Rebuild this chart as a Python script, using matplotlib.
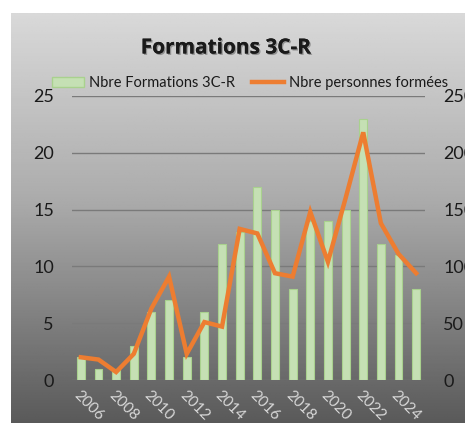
import matplotlib
matplotlib.use("Agg")
import matplotlib.pyplot as plt
import numpy as np
from matplotlib.lines import Line2D
from matplotlib.patches import Patch
import matplotlib.patheffects as pe

years = list(range(2006, 2026))
formations = [2, 1, 1, 3, 6, 7, 2, 6, 12, 13, 17, 15, 8, 14, 14, 15, 23, 12, 11, 8]
personnes = [20, 18, 7, 23, 63, 91, 23, 51, 47, 133, 129, 94, 91, 148, 104, 160, 218, 138, 111, 94]
tick_years = [str(y) if y % 2 == 0 else "" for y in years]

plt.rcParams['font.family'] = ['Lato', 'DejaVu Sans']

W, H = 465, 423
fig = plt.figure(figsize=(W / 100, H / 100), dpi=100)
fig.patch.set_facecolor('white')

# background gradient of chart area
bg = fig.add_axes([11 / W, 0, 1 - 11 / W, 1 - 13 / H], zorder=0)
t = np.linspace(0, 1, 256)
vals = np.interp(t, [0, 0.45, 1.0], [217, 172, 90]) / 255.0
img = np.repeat(vals[:, None], 2, axis=1)
bg.imshow(img, aspect='auto', cmap='gray', vmin=0, vmax=1, extent=[0, 1, 0, 1], origin='upper')
bg.set_axis_off()

ax = fig.add_axes([72 / W, 1 - 380 / H, (425 - 72) / W, (380 - 96) / H], zorder=1)
ax.patch.set_alpha(0)
x = np.arange(len(years))
ax.bar(x, formations, width=0.45, color='#c5e0b4', edgecolor='#a9d18e', linewidth=0.8, zorder=2)
ax.set_xlim(-0.5, len(years) - 0.5)
ax.set_ylim(0, 25)
ax.set_yticks([0, 5, 10, 15, 20, 25])
ax.yaxis.grid(True, color='#7a7a7a', linewidth=1.0, zorder=0)
ax.set_axisbelow(True)
for s in ax.spines.values():
    s.set_visible(False)
ax.tick_params(axis='y', length=0, pad=13, labelsize=13, labelcolor='#1a1a1a')
ax.set_xticks(x)
ax.set_xticklabels(tick_years, rotation=-45, ha='left', va='top', rotation_mode='anchor',
                   fontsize=11, color='#d8d8d8')
ax.tick_params(axis='x', length=0, pad=6)

ax2 = ax.twinx()
ax2.plot(x, personnes, color='#ed7d31', linewidth=3.2, solid_joinstyle='miter', zorder=3)
ax2.set_ylim(0, 250)
ax2.set_yticks([0, 50, 100, 150, 200, 250])
for s in ax2.spines.values():
    s.set_visible(False)
ax2.tick_params(axis='y', length=0, pad=13, labelsize=13, labelcolor='#1a1a1a')

fig.text(226 / W, 1 - 48 / H, "Formations 3C-R", ha='center', va='center', fontsize=15,
         fontweight='bold', color='#1a1a1a', family=['Open Sans', 'DejaVu Sans'],
         path_effects=[pe.withSimplePatchShadow(offset=(1, -1), shadow_rgbFace='#555555', alpha=0.5), pe.Normal()])

handles = [Patch(facecolor='#c5e0b4', edgecolor='#a9d18e'),
           Line2D([0], [0], color='#ed7d31', linewidth=3.2)]
fig.legend(handles, ["Nbre Formations 3C-R", "Nbre personnes formées"], ncol=2,
           loc='center', bbox_to_anchor=(250 / W, 1 - 83 / H), frameon=False,
           fontsize=10.5, handlelength=2.2, handletextpad=0.3, columnspacing=1.2,
           labelcolor='#1a1a1a')

fig.savefig("out.png", dpi=100)
